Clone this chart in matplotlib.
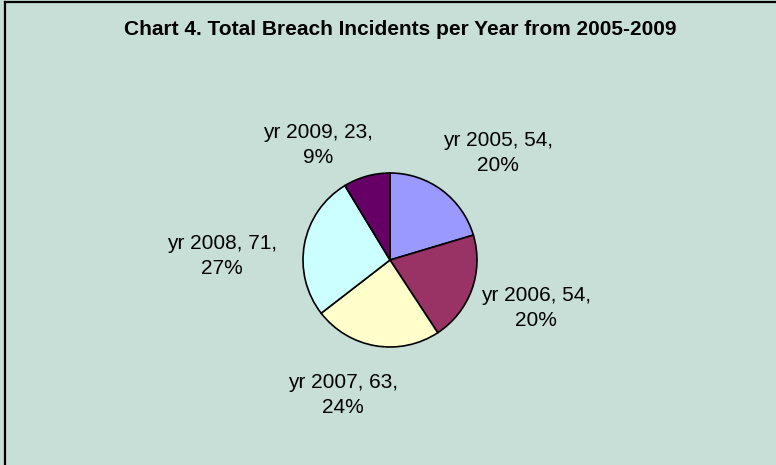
import matplotlib.pyplot as plt
from matplotlib.lines import Line2D

plt.rcParams['font.family'] = ['Liberation Sans', 'DejaVu Sans']

years = [2005, 2006, 2007, 2008, 2009]
incidents = [54, 54, 63, 71, 23]
colors = ['#9999FF', '#993366', '#FFFFCC', '#CCFFFF', '#660066']
# label centres in pixel space (x right, y down)
label_pos = [(498, 153), (536, 308), (343, 395), (222, 256), (318, 145)]

W, H = 776, 465
fig = plt.figure(figsize=(W / 100, H / 100), dpi=100)
fig.patch.set_facecolor('#C8DFD8')
ax = fig.add_axes([0, 0, 1, 1])
ax.set_xlim(0, W)
ax.set_ylim(0, H)
ax.set_aspect('equal')
ax.axis('off')

# chart frame, only the top and left edges are inside the image
fig.add_artist(Line2D([4.5 / W, 4.5 / W], [0, 1 - 2.5 / H], transform=fig.transFigure,
                      color='black', lw=1.6))
fig.add_artist(Line2D([4.5 / W, 1], [1 - 2.5 / H, 1 - 2.5 / H], transform=fig.transFigure,
                      color='black', lw=1.6))

ax.pie(incidents, colors=colors, startangle=90, counterclock=False,
       center=(390, H - 260), radius=87,
       wedgeprops=dict(edgecolor='black', linewidth=1.2))
ax.set_xlim(0, W)
ax.set_ylim(0, H)

total = sum(incidents)
for yr, n, (x, y) in zip(years, incidents, label_pos):
    pct = round(100 * n / total)
    ax.text(x, H - y, f'yr {yr}, {n},\n{pct}%', ha='center', va='center',
            fontsize=15, linespacing=1.4, color='black')

ax.text(400, H - 29, 'Chart 4. Total Breach Incidents per Year from 2005-2009',
        ha='center', va='center', fontsize=15, fontweight='bold')

fig.savefig('out.png', dpi=100, facecolor=fig.get_facecolor())
